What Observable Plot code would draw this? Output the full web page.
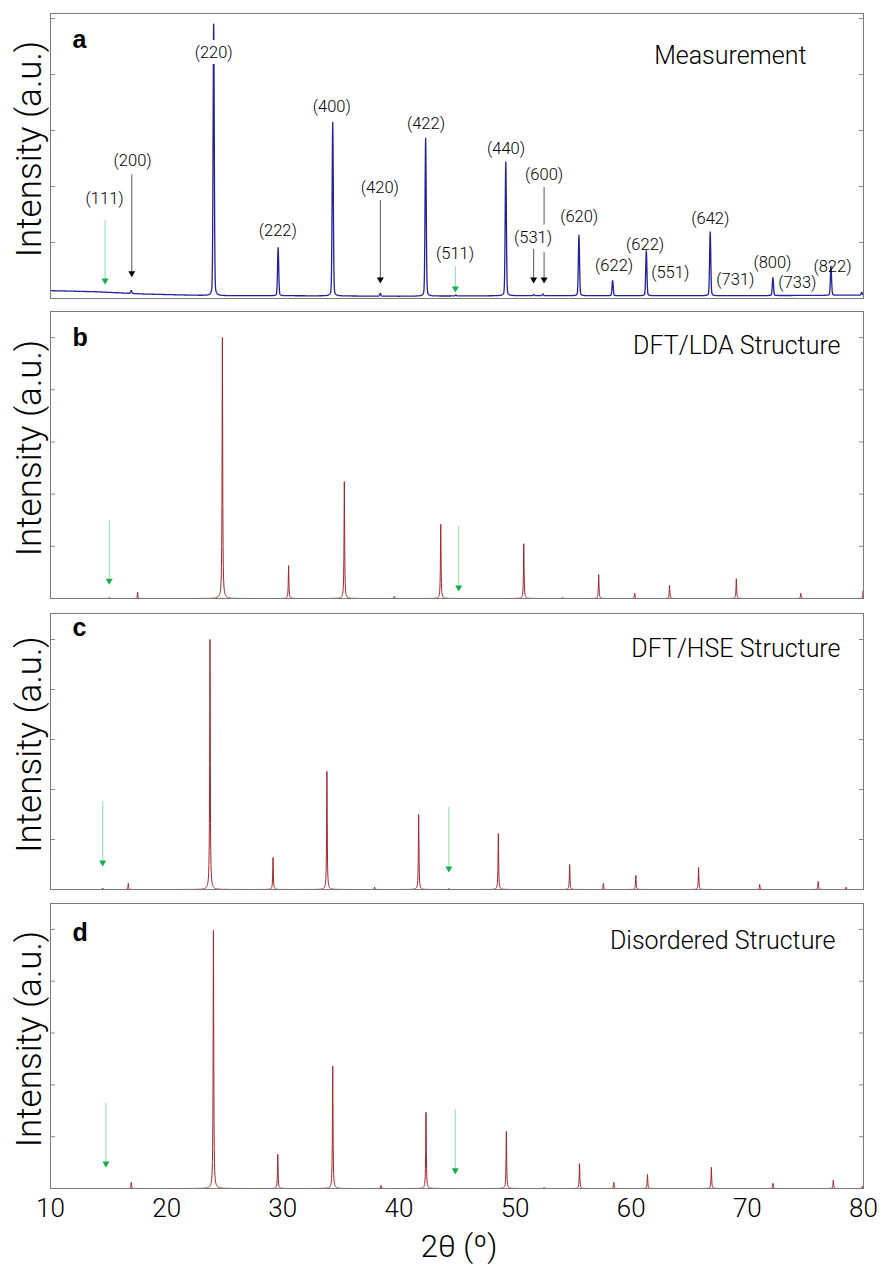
<!DOCTYPE html>
<html>
<head>
<meta charset="utf-8">
<script src="https://cdn.jsdelivr.net/npm/d3@7"></script>
<script src="https://cdn.jsdelivr.net/npm/@observablehq/plot@0.6"></script>
<style>
  body { margin: 0; background: #fff; }
  #chart { position: relative; width: 887px; height: 1268px; overflow: hidden; }
  #chart > svg, #chart > figure { position: absolute; left: 0; margin: 0; }
</style>
</head>
<body>
<div id="chart"></div>
<script>
// ---------------- DATA ----------------
const xTicks = [10, 20, 30, 40, 50, 60, 70, 80];
const yTicks = [1, 2, 3, 4, 5];

const panelLetters = ["a", "b", "c", "d"];
const panelTitles = ["Measurement", "DFT/LDA Structure", "DFT/HSE Structure", "Disordered Structure"];

// (a) measurement: peak positions (2θ) and heights (a.u.)
const measPeakPos = [16.95, 24.05, 29.6, 34.3, 38.4, 42.3, 44.9, 49.2, 51.6, 52.4, 55.5, 58.4, 61.3, 66.8, 72.2, 77.2, 79.85];
const measPeakInt = [0.05, 4.85, 0.86, 3.1, 0.05, 2.82, 0.02, 2.39, 0.02, 0.03, 1.08, 0.27, 0.8, 1.14, 0.32, 0.52, 0.05];
// (a) measurement background level
const measBgPos = [10, 12, 14, 16, 18, 20, 22, 24, 26, 30, 40, 50, 60, 70, 80];
const measBgInt = [0.14, 0.13, 0.12, 0.1, 0.08, 0.07, 0.06, 0.05, 0.05, 0.05, 0.04, 0.05, 0.05, 0.05, 0.06];

// (b) DFT/LDA
const ldaPeakPos = [15.06, 17.5, 24.8, 30.5, 35.3, 39.6, 43.6, 50.75, 54.1, 57.2, 60.3, 63.3, 69.05, 74.6, 79.97];
const ldaPeakInt = [0.02, 0.12, 5.0, 0.63, 2.24, 0.04, 1.42, 1.05, 0.02, 0.46, 0.1, 0.25, 0.38, 0.1, 0.15];

// (c) DFT/HSE
const hsePeakPos = [14.5, 16.7, 23.73, 29.16, 33.8, 37.9, 41.7, 44.3, 48.56, 54.7, 57.6, 60.4, 65.8, 71.06, 76.1, 78.5];
const hsePeakInt = [0.03, 0.12, 5.0, 0.64, 2.36, 0.05, 1.5, 0.02, 1.12, 0.5, 0.12, 0.28, 0.44, 0.1, 0.16, 0.05];

// (d) Disordered
const disPeakPos = [16.95, 24.03, 29.57, 34.3, 38.45, 42.33, 49.25, 52.5, 55.55, 58.5, 61.4, 66.9, 72.2, 77.4, 79.9];
const disPeakInt = [0.12, 4.98, 0.66, 2.36, 0.06, 1.47, 1.1, 0.02, 0.48, 0.12, 0.27, 0.41, 0.1, 0.16, 0.04];

// (a) Miller index labels
const hklText = ["(111)", "(200)", "(220)", "(222)", "(400)", "(420)", "(422)", "(511)", "(440)", "(531)",
                 "(600)", "(620)", "(622)", "(622)", "(551)", "(642)", "(731)", "(800)", "(733)", "(822)"];
const hklX = [14.66, 17.07, 24.05, 29.57, 34.22, 38.36, 42.33, 44.83, 49.22, 51.55,
              52.5, 55.52, 58.53, 61.2, 63.36, 66.81, 68.97, 72.16, 74.31, 77.33];
const hklY = [1.79, 2.46, 4.39, 1.21, 3.43, 1.98, 3.13, 0.80, 2.68, 1.09,
              2.21, 1.46, 0.59, 0.96, 0.46, 1.43, 0.34, 0.64, 0.29, 0.57];
const hklMasked = ["(220)", "(531)"];

// arrows: panel, 2θ, start and tip heights, kind
const arrowPanel = ["a", "a", "a", "a", "a", "a", "b", "b", "c", "c", "d", "d"];
const arrowX     = [17.0, 38.4, 51.6, 52.5, 14.7, 44.86, 15.06, 45.15, 14.5, 44.3, 14.77, 44.85];
const arrowFrom  = [2.21, 1.75, 0.875, 1.98, 1.39, 0.57, 1.49, 1.38, 1.76, 1.64, 1.64, 1.53];
const arrowTo    = [0.45, 0.34, 0.34, 0.34, 0.32, 0.18, 0.34, 0.21, 0.54, 0.42, 0.48, 0.35];
const arrowKind  = ["hkl", "hkl", "hkl", "hkl", "missing", "missing", "missing", "missing", "missing", "missing", "missing", "missing"];

// ---------------- BUILD ----------------
const FONT = "Roboto, 'Open Sans', 'Liberation Sans', sans-serif";

function lorentzProfile(pos, ints, gamma) {
  const grid = d3.range(10, 80.0001, 0.02).concat(pos).sort((a, b) => a - b);
  const hw = gamma / 2;
  return grid.map(x => {
    let y = 0;
    for (let i = 0; i < pos.length; i++) {
      const t = (x - pos[i]) / hw;
      y += ints[i] / (1 + t * t);
    }
    return {x, y};
  });
}

function measProfile() {
  const bg = d3.scaleLinear().domain(measBgPos).range(measBgInt);
  const grid = d3.range(10, 80.0001, 0.02).concat(measPeakPos).sort((a, b) => a - b);
  const s = 0.05, hw = 0.07;
  return grid.map(x => {
    let y = bg(x);
    for (let i = 0; i < measPeakPos.length; i++) {
      const d = x - measPeakPos[i];
      const g = Math.exp(-d * d / (2 * s * s));
      const l = 1 / (1 + (d / hw) * (d / hw));
      y += measPeakInt[i] * (0.85 * g + 0.15 * l);
    }
    return {x, y};
  });
}

const arrows = arrowPanel.map((p, i) => ({panel: p, x: arrowX[i], y1: arrowFrom[i], y2: arrowTo[i], kind: arrowKind[i]}));
const hkl = hklText.map((t, i) => ({text: t, x: hklX[i], y: hklY[i], masked: hklMasked.includes(t)}));

const layout = [
  {key: "a", top: 13, bottom: 298, ymax: 5.09, data: measProfile(), color: "#22229a", sw: 1.3,
   letterDy: 34, titleDx: -57, titleDy: 50},
  {key: "b", top: 311, bottom: 598, ymax: 5.5, data: lorentzProfile(ldaPeakPos, ldaPeakInt, 0.06), color: "#a3262a", sw: 1,
   letterDy: 34, titleDx: -23, titleDy: 42},
  {key: "c", top: 613, bottom: 889, ymax: 5.52, data: lorentzProfile(hsePeakPos, hsePeakInt, 0.06), color: "#a3262a", sw: 1,
   letterDy: 22, titleDx: -23, titleDy: 43},
  {key: "d", top: 903, bottom: 1188, ymax: 5.5, data: lorentzProfile(disPeakPos, disPeakInt, 0.06), color: "#a3262a", sw: 1,
   letterDy: 37, titleDx: -28, titleDy: 45}
];

const chart = document.getElementById("chart");
const MT = 8;

layout.forEach((L, idx) => {
  const last = idx === layout.length - 1;
  const MB = last ? 1268 - L.bottom : 6;
  const frameH = L.bottom - L.top;
  const pa = arrows.filter(d => d.panel === L.key);
  const marks = [
    Plot.axisY({anchor: "left", ticks: yTicks, tickSize: -5, tickFormat: () => "", stroke: "#8a8a8a", label: null}),
    Plot.axisY({anchor: "right", ticks: yTicks, tickSize: -5, tickFormat: () => "", stroke: "#8a8a8a", label: null}),
    Plot.line(L.data, {x: "x", y: "y", stroke: L.color, strokeWidth: L.sw, clip: true}),
    Plot.ruleX(pa, {x: "x", y1: "y1", y2: "y2", stroke: d => d.kind === "hkl" ? "#444" : "#7fd99e", strokeWidth: 0.9}),
    Plot.dot(pa, {x: "x", y: "y2", symbol: "triangle", rotate: 180, r: 2.6,
      fill: d => d.kind === "hkl" ? "#000" : "#12b04a", stroke: "none"}),
    Plot.frame({stroke: "#7a7a7a", strokeWidth: 1}),
    Plot.text([panelLetters[idx]], {frameAnchor: "top-left", dx: 22, dy: L.letterDy, lineAnchor: "bottom",
      textAnchor: "start", fontSize: 25, fontWeight: "bold", fill: "#000", fontFamily: "'Liberation Sans', Arial, sans-serif"}),
    Plot.text([panelTitles[idx]], {frameAnchor: "top-right", dx: L.titleDx, dy: L.titleDy, lineAnchor: "bottom",
      textAnchor: "end", fontSize: 25, fontWeight: 300, fill: "#000"}),
    Plot.text(["Intensity (a.u.)"], {frameAnchor: "left", dx: -10, dy: -7, rotate: -90, lineAnchor: "bottom",
      textAnchor: "middle", fontSize: 35, fontWeight: 300, fill: "#000"})
  ];
  if (L.key === "a") {
    marks.push(
      Plot.text(hkl.filter(d => d.masked), {x: "x", y: "y", text: "text", fontSize: 16.5, fontWeight: 300, fill: "#000",
        stroke: "white", strokeWidth: 12, lineAnchor: "middle"}),
      Plot.text(hkl.filter(d => !d.masked), {x: "x", y: "y", text: "text", fontSize: 16.5, fontWeight: 300, fill: "#000",
        lineAnchor: "middle"})
    );
  }
  if (last) {
    marks.push(
      Plot.axisX({anchor: "bottom", ticks: xTicks, tickSize: 0, tickPadding: 10, fontSize: 26, fontWeight: 300,
        fill: "#000", label: null}),
      Plot.text(["2θ (º)"], {frameAnchor: "bottom", dx: 2, dy: 68, lineAnchor: "bottom", textAnchor: "middle",
        fontSize: 31, fontWeight: 300, fill: "#000"})
    );
  }
  const svg = Plot.plot({
    width: 887,
    height: MT + frameH + MB,
    marginLeft: 50,
    marginRight: 24,
    marginTop: MT,
    marginBottom: MB,
    style: {background: "transparent", fontFamily: FONT, overflow: "visible"},
    x: {domain: [10, 80], axis: null},
    y: {domain: [0, L.ymax], axis: null},
    marks
  });
  svg.style.top = (L.top - MT) + "px";
  chart.appendChild(svg);
});
</script>
</body>
</html>
